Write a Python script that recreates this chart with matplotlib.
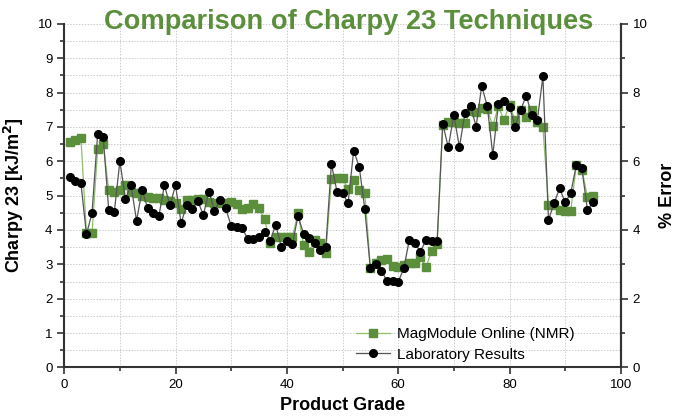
import matplotlib
matplotlib.use("Agg")
import matplotlib.pyplot as plt
from matplotlib.ticker import MultipleLocator

plt.rcParams['font.family'] = ['Liberation Sans', 'DejaVu Sans']

grade = list(range(1, 96))

nmr = [6.57, 6.62, 6.68, 3.90, 3.90, 6.35, 6.50, 5.16, 5.11, 5.16,
       5.31, 5.10, 5.08, 5.00, 4.95, 4.93, 4.93, 4.87, 4.85, 4.78,
       4.60, 4.87, 4.87, 4.90, 4.90, 4.82, 4.78, 4.78, 4.78, 4.82,
       4.75, 4.60, 4.65, 4.76, 4.63, 4.31, 3.63, 3.79, 3.79, 3.79,
       3.79, 4.50, 3.56, 3.37, 3.71, 3.61, 3.34, 5.48, 5.50, 5.50,
       5.18, 5.46, 5.15, 5.09, 2.90, 3.05, 3.13, 3.17, 2.95, 2.91,
       2.98, 3.05, 3.05, 3.22, 2.91, 3.40, 3.59, 7.05, 7.15, 7.15,
       7.12, 7.10, 7.47, 7.44, 7.54, 7.51, 7.03, 7.60, 7.20, 7.64,
       7.19, 7.49, 7.30, 7.49, 7.15, 6.99, 4.73, 4.73, 4.58, 4.56,
       4.56, 5.89, 5.76, 4.97, 4.99]

lab = [5.53, 5.43, 5.37, 3.87, 4.50, 6.78, 6.72, 4.58, 4.52, 6.00,
       4.90, 5.30, 4.27, 5.16, 4.63, 4.50, 4.40, 5.30, 4.72, 5.30,
       4.20, 4.72, 4.61, 4.83, 4.44, 5.12, 4.56, 4.87, 4.63, 4.12,
       4.10, 4.05, 3.73, 3.73, 3.79, 3.95, 3.69, 4.15, 3.51, 3.69,
       3.59, 4.41, 3.89, 3.78, 3.61, 3.42, 3.51, 5.92, 5.12, 5.07,
       4.78, 6.31, 5.84, 4.61, 2.88, 3.01, 2.81, 2.51, 2.51, 2.49,
       2.88, 3.71, 3.61, 3.37, 3.71, 3.69, 3.69, 7.09, 6.41, 7.35,
       6.41, 7.41, 7.61, 7.01, 8.19, 7.61, 6.18, 7.67, 7.74, 7.59,
       7.01, 7.49, 7.91, 7.35, 7.20, 8.47, 4.29, 4.78, 5.21, 4.80,
       5.07, 5.89, 5.79, 4.58, 4.80]

title = "Comparison of Charpy 23 Techniques"
green = "#5b8f3c"
spine_c = "#333333"

fig = plt.figure(figsize=(6.83, 4.18), dpi=100)
ax = fig.add_axes([0.094, 0.121, 0.815, 0.822])

ax.plot(grade, nmr, color="#8fbf6e", lw=0.9, marker="s", ms=5.5,
        mfc=green, mec=green, label="MagModule Online (NMR)", zorder=3)
ax.plot(grade, lab, color="#555555", lw=0.9, marker="o", ms=5.5,
        mfc="black", mec="black", label="Laboratory Results", zorder=4)

ax.set_xlim(0, 100)
ax.set_ylim(0, 10)
ax.xaxis.set_major_locator(MultipleLocator(20))
ax.xaxis.set_minor_locator(MultipleLocator(10))
ax.yaxis.set_major_locator(MultipleLocator(1))
ax.yaxis.set_minor_locator(MultipleLocator(0.5))
ax.grid(True, which="both", color="#cccccc", ls=(0, (1.5, 1.5)), lw=0.7)
ax.set_axisbelow(True)

for s in ["left", "bottom", "right"]:
    ax.spines[s].set_color(spine_c)
    ax.spines[s].set_linewidth(1.5)
ax.spines["top"].set_visible(False)
ax.tick_params(which="major", direction="out", length=5, width=1.2,
               color=spine_c, labelsize=9.5)
ax.tick_params(which="minor", direction="out", length=3, width=1.2,
               color=spine_c)

ax2 = ax.twinx()
ax2.set_ylim(0, 10)
ax2.yaxis.set_major_locator(MultipleLocator(2))
ax2.yaxis.set_minor_locator(MultipleLocator(1))
for s in ["left", "bottom", "top"]:
    ax2.spines[s].set_visible(False)
ax2.spines["right"].set_color(spine_c)
ax2.spines["right"].set_linewidth(1.5)
ax2.tick_params(which="major", direction="out", length=5, width=1.2,
                color=spine_c, labelsize=9.5)
ax2.tick_params(which="minor", direction="out", length=3, width=1.2,
                color=spine_c)

ax.set_xlabel("Product Grade", fontsize=13, fontweight="bold", labelpad=4)
ax.set_ylabel("Charpy 23 [kJ/m$\\mathbf{^2}$]", fontsize=13, fontweight="bold", labelpad=8)
ax2.set_ylabel("% Error", fontsize=13, fontweight="bold", labelpad=8)

fig.text(0.510, 0.947, title, ha="center", va="center", fontsize=19.6,
         fontweight="bold", color=green,
         family=["Liberation Sans Narrow", "Liberation Sans", "DejaVu Sans"])

leg = ax.legend(loc="lower left", bbox_to_anchor=(0.505, -0.014), frameon=False,
                fontsize=11, handlelength=2.2, handletextpad=0.5,
                borderaxespad=0.3, labelspacing=0.4)

fig.savefig("out.png", dpi=100)
